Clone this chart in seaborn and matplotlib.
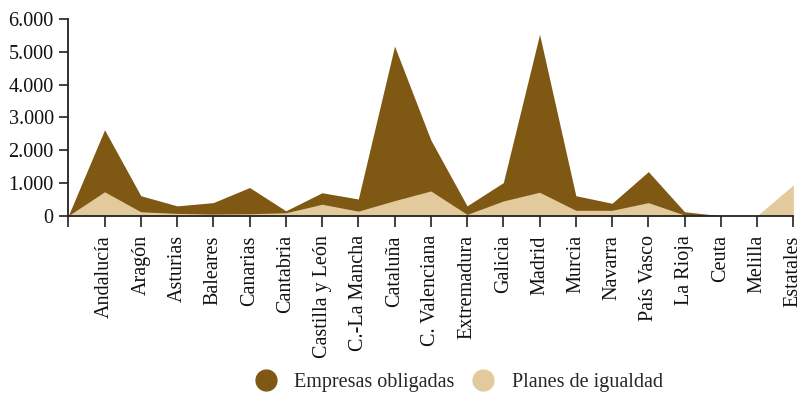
import matplotlib
matplotlib.use("Agg")
import matplotlib.pyplot as plt
from matplotlib.lines import Line2D
import seaborn as sns
import pandas as pd

regions = ["", "Andalucía", "Aragón", "Asturias", "Baleares", "Canarias", "Cantabria",
           "Castilla y León", "C.-La Mancha", "Cataluña", "C. Valenciana", "Extremadura",
           "Galicia", "Madrid", "Murcia", "Navarra", "País Vasco", "La Rioja", "Ceuta",
           "Melilla", "Estatales"]
empresas_obligadas = [0, 2620, 610, 300, 400, 860, 150, 700, 510, 5170, 2310, 300,
                      1010, 5530, 610, 380, 1345, 120, 0, 0, 0]
planes_igualdad = [0, 730, 120, 70, 50, 60, 90, 350, 140, 460, 755, 40,
                   450, 715, 165, 165, 400, 20, 0, 0, 940]
y_ticks = [0, 1000, 2000, 3000, 4000, 5000, 6000]
y_tick_labels = ["0", "1.000", "2.000", "3.000", "4.000", "5.000", "6.000"]

dark = "#7f5814"
tan = "#e3ca9d"

sns.set_theme(style="white")
plt.rcParams["font.family"] = ["Liberation Serif", "DejaVu Serif"]

df = pd.DataFrame({"pos": range(len(regions)), "region": regions,
                   "empresas": empresas_obligadas, "planes": planes_igualdad})

fig = plt.figure(figsize=(7.97, 3.94), dpi=100)
ax = fig.add_axes([0.0857, 0.4525, 0.9097, 0.4995])

sns.lineplot(data=df, x="pos", y="empresas", ax=ax, color=dark, linewidth=0)
sns.lineplot(data=df, x="pos", y="planes", ax=ax, color=tan, linewidth=0)
ax.fill_between(df["pos"], 0, df["empresas"], color=dark, linewidth=0)
ax.fill_between(df["pos"], 0, df["planes"], color=tan, linewidth=0)

ax.set_xlim(0, len(regions) - 1)
ax.set_ylim(0, 6000)
ax.set_xticks(df["pos"])
ax.set_xticklabels(regions, rotation=90, fontsize=14.5, color="#111111")
ax.set_yticks(y_ticks)
ax.set_yticklabels(y_tick_labels, fontsize=14.5, color="#111111")
ax.set_xlabel("")
ax.set_ylabel("")

for side in ("top", "right"):
    ax.spines[side].set_visible(False)
for side in ("left", "bottom"):
    ax.spines[side].set_color("#222222")
    ax.spines[side].set_linewidth(1.3)
ax.tick_params(axis="x", direction="out", length=8, width=1.3, color="#333333", pad=6, bottom=True)
ax.tick_params(axis="y", direction="out", length=6.5, width=1.3, color="#333333", pad=4, left=True)

handles = [
    Line2D([], [], marker="o", linestyle="", markersize=15, color=dark, label="Empresas obligadas"),
    Line2D([], [], marker="o", linestyle="", markersize=15, color=tan, label="Planes de igualdad"),
]
fig.legend(handles=handles, loc="center", bbox_to_anchor=(0.576, 0.03), ncol=2,
           frameon=False, fontsize=14.5, handletextpad=0.9, columnspacing=0.95,
           borderaxespad=0, handlelength=1.0)

fig.savefig("out.png", dpi=100)
